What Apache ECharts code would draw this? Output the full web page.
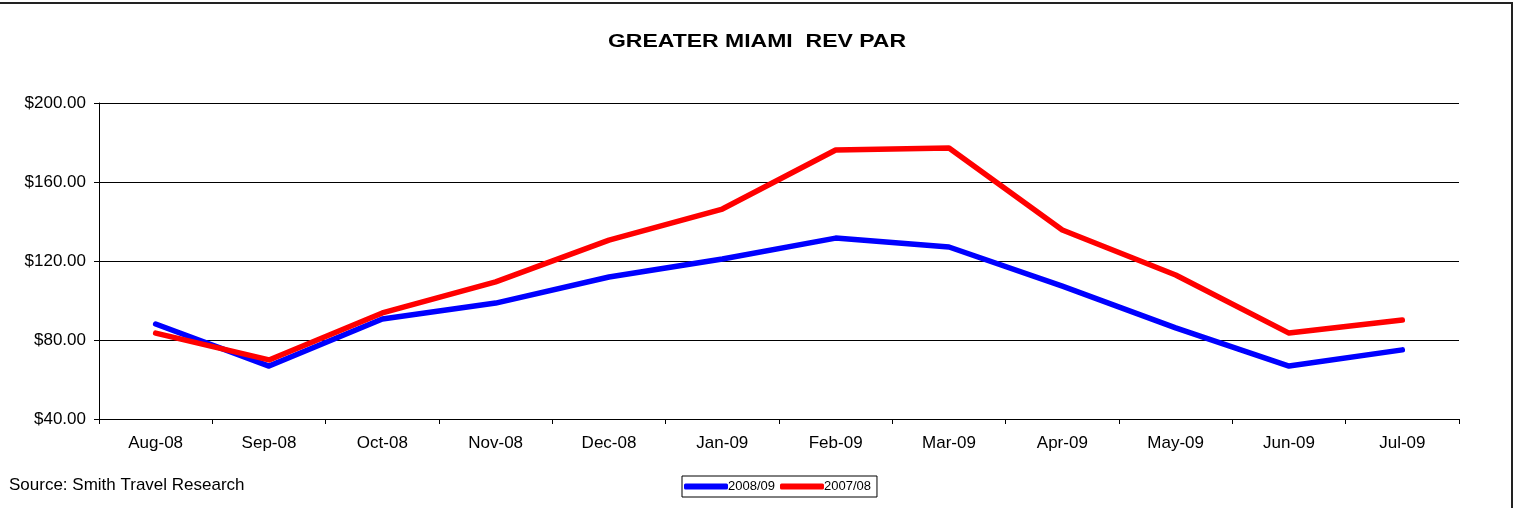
<!DOCTYPE html>
<html>
<head>
<meta charset="utf-8">
<script src="https://cdn.jsdelivr.net/npm/echarts@6/dist/echarts.min.js"></script>
<style>
  html, body { margin: 0; padding: 0; background: #fff; }
  #chart { width: 1519px; height: 508px; }
</style>
</head>
<body>
<div id="chart"></div>
<script>
const months = ["Aug-08", "Sep-08", "Oct-08", "Nov-08", "Dec-08", "Jan-09",
  "Feb-09", "Mar-09", "Apr-09", "May-09", "Jun-09", "Jul-09"];
const revPar0809 = [88.1, 66.8, 90.6, 98.7, 111.9, 121.0, 131.6, 127.1, 107.3, 86.1, 66.8, 75.0];
const revPar0708 = [83.5, 69.9, 93.7, 109.4, 130.6, 146.3, 176.2, 177.2, 135.7, 112.9, 83.5, 90.1];

const chart = echarts.init(document.getElementById("chart"), null, { renderer: "canvas" });
const font = "Liberation Sans, Arial, sans-serif";

chart.setOption({
  animation: false,
  grid: { left: 99, right: 60, top: 103, bottom: 89 },
  legend: {
    left: 682, top: 476, width: 193, height: 22,
    padding: [4, 6, 4, 2], itemGap: 5, itemWidth: 44, itemHeight: 6,
    borderColor: "#000", borderWidth: 1,
    icon: "roundRect",
    textStyle: { fontFamily: font, fontSize: 13, color: "#000", padding: [2, 0, 0, -5] },
    data: ["2008/09", "2007/08"]
  },
  xAxis: {
    type: "category", data: months, boundaryGap: true,
    axisLine: { lineStyle: { color: "#000", width: 1 } },
    axisTick: { show: true, length: 5, lineStyle: { color: "#000" } },
    axisLabel: { color: "#000", fontFamily: font, fontSize: 17, margin: 16 }
  },
  yAxis: {
    type: "value", min: 40, max: 200, interval: 40,
    axisLine: { show: true, lineStyle: { color: "#000", width: 1 } },
    axisTick: { show: true, length: 5, lineStyle: { color: "#000" } },
    axisLabel: {
      color: "#000", fontFamily: font, fontSize: 17, margin: 13,
      formatter: v => "$" + v.toFixed(2)
    },
    splitLine: { lineStyle: { color: "#000", width: 1 } }
  },
  series: [
    {
      name: "2008/09", type: "line", data: revPar0809,
      showSymbol: false, symbol: "none",
      lineStyle: { color: "#0000ff", width: 5.5, cap: "round", join: "round" },
      itemStyle: { color: "#0000ff" }
    },
    {
      name: "2007/08", type: "line", data: revPar0708,
      showSymbol: false, symbol: "none",
      lineStyle: { color: "#ff0000", width: 5.5, cap: "round", join: "round" },
      itemStyle: { color: "#ff0000" }
    }
  ],
  graphic: [
    {
      type: "rect", silent: true, z: -1,
      shape: { x: -3, y: 3, width: 1515, height: 510 },
      style: { fill: "none", stroke: "#222", lineWidth: 2 }
    },
    {
      type: "text", x: 757, y: 42, scaleX: 1.21,
      style: {
        text: "GREATER MIAMI  REV PAR", font: "bold 19px " + font, fill: "#000",
        align: "center", verticalAlign: "middle"
      }
    },
    {
      type: "text", x: 9, y: 485,
      style: {
        text: "Source: Smith Travel Research", font: "17px " + font, fill: "#000",
        verticalAlign: "middle"
      }
    }
  ]
});
</script>
</body>
</html>
